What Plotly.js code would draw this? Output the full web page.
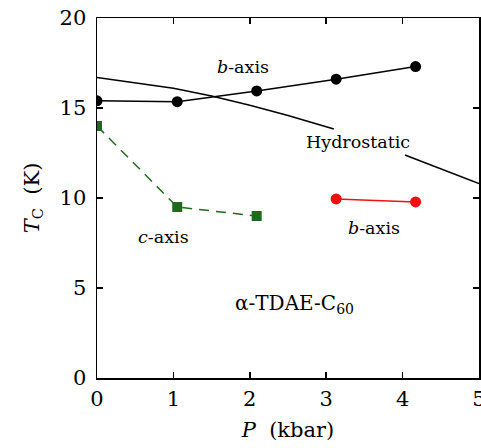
<!DOCTYPE html>
<html>
<head>
<meta charset="utf-8">
<script src="https://cdn.plot.ly/plotly-3.0.1.min.js"></script>
<style>
html,body{margin:0;padding:0;background:#fff;}
#chart{width:481px;height:448px;}
</style>
</head>
<body>
<div id="chart"></div>
<script>
// Data
const bAxisP = [0, 1.05, 2.09, 3.13, 4.17];
const bAxisTc = [15.4, 15.35, 15.95, 16.6, 17.3];

const cAxisP = [0, 1.05, 2.09];
const cAxisTc = [14.0, 9.5, 9.0];

const bAxis2P = [3.13, 4.17];
const bAxis2Tc = [9.95, 9.78];

// Hydrostatic curve (gap where the label sits)
const hydroP = [0, 0.5, 1, 1.5, 2, 2.5, 3, 3.1, null, 4.03, 4.5, 5];
const hydroTc = [16.7, 16.42, 16.1, 15.67, 15.15, 14.58, 13.97, 13.83, null, 12.39, 11.62, 10.8];

const xTicks = [0, 1, 2, 3, 4, 5];
const yTicks = [0, 5, 10, 15, 20];

const serif = "DejaVu Serif";

const traces = [
  {x: hydroP, y: hydroTc, mode: "lines", line: {color: "#000", width: 1.5}, connectgaps: false, hoverinfo: "skip"},
  {x: bAxisP, y: bAxisTc, mode: "lines+markers", line: {color: "#000", width: 1.5},
   marker: {symbol: "circle", size: 11, color: "#000"}},
  {x: cAxisP, y: cAxisTc, mode: "lines+markers", line: {color: "#1d6b1d", width: 1.5, dash: "10px,7px"},
   marker: {symbol: "square", size: 10, color: "#1d6b1d"}},
  {x: bAxis2P, y: bAxis2Tc, mode: "lines+markers", line: {color: "#f01010", width: 1.5},
   marker: {symbol: "circle", size: 11, color: "#f01010"}}
];

const annFont = {family: serif, size: 17.5, color: "#000"};
const layout = {
  width: 481, height: 448,
  margin: {l: 97, r: 2, t: 18, b: 70},
  paper_bgcolor: "#fff", plot_bgcolor: "#fff",
  showlegend: false,
  font: {family: serif, color: "#000"},
  xaxis: {
    range: [0, 5], tickvals: xTicks, ticktext: xTicks.map(String),
    ticks: "inside", ticklen: 6, tickwidth: 1.5, tickcolor: "#000",
    showline: true, linecolor: "#000", linewidth: 1.5, mirror: "ticks",
    showgrid: false, zeroline: false,
    tickfont: {family: serif, size: 21, color: "#000"},
    ticklabelstandoff: 1, ticklabeloverflow: "allow",
    title: {text: "<i>P</i>\u00a0\u00a0(kbar)", font: {family: serif, size: 21, color: "#000"}, standoff: 12}
  },
  yaxis: {
    range: [0, 20], tickvals: yTicks, ticktext: yTicks.map(String),
    ticks: "inside", ticklen: 6, tickwidth: 1.5, tickcolor: "#000",
    showline: true, linecolor: "#000", linewidth: 1.5, mirror: "ticks",
    showgrid: false, zeroline: false,
    tickfont: {family: serif, size: 21, color: "#000"},
    ticklabelstandoff: 5,
    title: {text: "<i>T</i><sub>C</sub>\u00a0\u00a0(K)", font: {family: serif, size: 21, color: "#000"}, standoff: 14}
  },
  annotations: [
    {x: 1.91, y: 17.28, xref: "x", yref: "y", text: "<i>b</i>-axis", showarrow: false, font: annFont},
    {x: 3.42, y: 13.1, xref: "x", yref: "y", text: "Hydrostatic", showarrow: false, font: annFont},
    {x: 3.62, y: 8.33, xref: "x", yref: "y", text: "<i>b</i>-axis", showarrow: false, font: annFont},
    {x: 0.87, y: 7.83, xref: "x", yref: "y", text: "<i>c</i>-axis", showarrow: false, font: annFont},
    {x: 1.78, y: 4.1, xref: "x", yref: "y", xanchor: "left", text: "\u03b1-TDAE-C<sub>60</sub>", showarrow: false, font: {family: serif, size: 20, color: "#000"}}
  ]
};

Plotly.newPlot("chart", traces, layout, {displayModeBar: false, staticPlot: true});
</script>
</body>
</html>
